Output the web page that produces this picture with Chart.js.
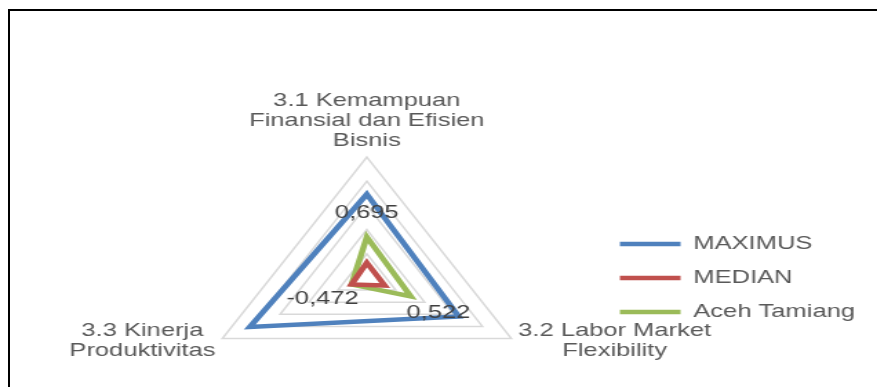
<!DOCTYPE html>
<html>
<head>
<meta charset="utf-8">
<script src="https://cdn.jsdelivr.net/npm/chart.js@4/dist/chart.umd.min.js"></script>
<style>
    html, body { margin: 0; padding: 0; background: #fff; overflow: hidden; }
    #frame {
        position: absolute; left: 8px; top: 9px; width: 900px; height: 400px;
        border-left: 2px solid #000; border-top: 2px solid #000;
    }
    /* the chart is laid out narrow and widened to fill the page */
    #wrap {
        position: absolute; left: 0; top: 0; width: 636px; height: 420px;
        transform: scaleX(1.379); transform-origin: 0 0;
    }
</style>
</head>
<body>
<div id="frame"></div>
<div id="wrap"><canvas id="radar" width="636" height="420"></canvas></div>
<script>
const categories = [
    ['3.1 Kemampuan', 'Finansial dan Efisien', 'Bisnis'],
    ['3.2 Labor Market', 'Flexibility'],
    ['3.3 Kinerja', 'Produktivitas']
];
const seriesNames = ['MAXIMUS', 'MEDIAN', 'Aceh Tamiang'];
const maximusValues = [2.46, 2.18, 3.05];
const medianValues = [-0.37, -0.38, -0.47];
const acehValues = [0.695, 0.522, -0.472];
const seriesColors = ['#4f81bd', '#c0504d', '#9bbb59'];
const axisMin = -1;
const axisMax = 4;
const axisStep = 1;
const labeledSeries = 2; // only Aceh Tamiang gets value labels

const fontFamily = '"Liberation Sans", Arial, sans-serif';
const fontSize = 18.5;

// Category names, each line centred inside its own block
const categoryLabels = {
    id: 'categoryLabels',
    afterDraw(chart) {
        const scale = chart.scales.r;
        const ctx = chart.ctx;
        ctx.save();
        ctx.font = `${fontSize}px ${fontFamily}`;
        ctx.fillStyle = '#595959';
        ctx.textAlign = 'center';
        ctx.textBaseline = 'alphabetic';
        categories.forEach((lines, i) => {
            const p = scale.getPointPosition(i, scale.drawingArea);
            const blockW = Math.max(...lines.map(l => ctx.measureText(l).width));
            let cx, firstBase;
            if (Math.abs(p.x - scale.xCenter) < 1) {
                cx = p.x;
                firstBase = p.y - 11.5 - (lines.length - 1) * 20;
            } else if (p.x > scale.xCenter) {
                cx = p.x + 5 + blockW / 2;
                firstBase = p.y - 3;
            } else {
                cx = p.x - 5 - blockW / 2;
                firstBase = p.y - 3;
            }
            lines.forEach((line, k) => ctx.fillText(line, cx, firstBase + k * 20));
        });
        ctx.restore();
    }
};

// Value labels next to the points of one series
const valueLabels = {
    id: 'valueLabels',
    afterDatasetsDraw(chart) {
        const meta = chart.getDatasetMeta(labeledSeries);
        const values = chart.data.datasets[labeledSeries].data;
        const offsets = [[0, -24], [20, 16], [-21, 15]];
        const ctx = chart.ctx;
        ctx.save();
        ctx.font = `${fontSize}px ${fontFamily}`;
        ctx.fillStyle = '#404040';
        ctx.textAlign = 'center';
        ctx.textBaseline = 'middle';
        meta.data.forEach((pt, i) => {
            const text = String(values[i]).replace('.', ',');
            ctx.fillText(text, pt.x + offsets[i][0], pt.y + offsets[i][1]);
        });
        ctx.restore();
    }
};

const seriesValues = [maximusValues, medianValues, acehValues];

new Chart(document.getElementById('radar'), {
    type: 'radar',
    data: {
        labels: categories,
        datasets: seriesNames.map((name, i) => ({
            label: name,
            data: seriesValues[i],
            borderColor: seriesColors[i],
            backgroundColor: 'transparent',
            borderWidth: 4.5,
            borderCapStyle: 'round',
            fill: false,
            pointRadius: 0,
            pointHoverRadius: 0
        }))
    },
    options: {
        responsive: false,
        animation: false,
        layout: { padding: { left: 98, top: 157, right: 6, bottom: 21 } },
        elements: { line: { tension: 0 } },
        scales: {
            r: {
                min: axisMin,
                max: axisMax,
                ticks: { stepSize: axisStep, display: false },
                pointLabels: { display: false },
                angleLines: { display: false },
                grid: { circular: false, color: '#d9d9d9', lineWidth: 1.5 }
            }
        },
        plugins: {
            legend: {
                position: 'right',
                labels: {
                    usePointStyle: true,
                    pointStyle: 'line',
                    pointStyleWidth: 44,
                    padding: 15.5,
                    color: '#595959',
                    font: { family: fontFamily, size: fontSize }
                }
            },
            tooltip: { enabled: false }
        }
    },
    plugins: [categoryLabels, valueLabels]
});
</script>
</body>
</html>
